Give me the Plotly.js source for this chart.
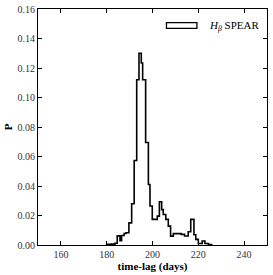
<!DOCTYPE html>
<html>
<head>
<meta charset="utf-8">
<script src="https://cdn.plot.ly/plotly-3.0.1.min.js"></script>
<style>html,body{margin:0;padding:0;background:#fff;}#chart{width:273px;height:275px;}</style>
</head>
<body>
<div id="chart"></div>
<script>
// Histogram of H-beta SPEAR time-lag posterior (bin left edges in days, probability per bin)
var binEdges = [180.0, 182.0, 183.6, 184.6, 185.8, 186.5, 187.6, 188.4, 189.7, 190.9,
                192.0, 193.1, 194.1, 195.1, 195.7, 197.0, 198.2, 198.9, 199.9, 202.1,
                203.0, 204.0, 204.7, 205.8, 206.9, 207.9, 209.1, 212.5, 214.0, 215.6,
                216.7, 218.1, 218.9, 220.0, 221.7, 222.9, 224.4, 225.8];
var probValues = [0.0004, 0.0006, 0.0012, 0.0062, 0.0030, 0.0064, 0.0078, 0.0083, 0.0150, 0.0280,
                  0.0573, 0.1120, 0.1300, 0.1234, 0.1120, 0.0695, 0.0410, 0.0264, 0.0174, 0.0196,
                  0.0293, 0.0240, 0.0207, 0.0174, 0.0128, 0.0060, 0.0077, 0.0072, 0.0061, 0.0090,
                  0.0174, 0.0070, 0.0038, 0.0010, 0.0027, 0.0010, 0.0003, 0.0];
var xTicks = [160, 180, 200, 220, 240];
var yTicks = [0.00, 0.02, 0.04, 0.06, 0.08, 0.10, 0.12, 0.14, 0.16];
var seriesName = 'H<sub>β</sub> SPEAR';

// step outline: start at baseline, then each bin level
var xs = [binEdges[0]].concat(binEdges);
var ys = [0].concat(probValues);

var font = 'Liberation Serif, DejaVu Serif, serif';
var trace = {
  x: xs, y: ys, type: 'scatter', mode: 'lines',
  line: {shape: 'hv', color: '#000', width: 1.6},
  name: seriesName, showlegend: false, hoverinfo: 'skip'
};
var layout = {
  width: 273, height: 275,
  margin: {l: 38, r: 6, t: 9, b: 30},
  paper_bgcolor: '#fff', plot_bgcolor: '#fff',
  font: {family: font, size: 10, color: '#000'},
  showlegend: false,
  xaxis: {
    range: [150, 250], tickvals: xTicks, ticktext: xTicks.map(String),
    ticks: 'inside', ticklen: 4, tickcolor: '#000', tickwidth: 1,
    showline: true, linecolor: '#000', linewidth: 1, mirror: 'ticks',
    showgrid: false, zeroline: false,
    tickfont: {family: font, size: 10, color: '#333'},
    title: {text: '<b>time-lag (days)</b>', font: {family: font, size: 11, color: '#000'}, standoff: 2}
  },
  yaxis: {
    range: [0, 0.16], tickvals: yTicks, ticktext: yTicks.map(function(v){return v.toFixed(2);}),
    ticks: 'inside', ticklen: 4, tickcolor: '#000', tickwidth: 1,
    showline: true, linecolor: '#000', linewidth: 1, mirror: 'ticks',
    showgrid: false, zeroline: false,
    tickfont: {family: font, size: 10, color: '#333'},
    title: {text: '<b>P</b>', font: {family: font, size: 11, color: '#000'}, standoff: 2}
  },
  shapes: [{
    type: 'rect', xref: 'paper', yref: 'paper',
    x0: 0.561, x1: 0.694, y0: 0.918, y1: 0.942,
    line: {color: '#000', width: 1.3}, fillcolor: '#fff'
  }],
  annotations: [{
    xref: 'paper', yref: 'paper', x: 0.738, y: 0.93, xanchor: 'left', yanchor: 'middle',
    showarrow: false, text: '<i>H</i><sub><i>β</i></sub> SPEAR',
    font: {family: font, size: 11, color: '#000'}
  }]
};
Plotly.newPlot('chart', [trace], layout, {staticPlot: true, displayModeBar: false});
</script>
</body>
</html>
